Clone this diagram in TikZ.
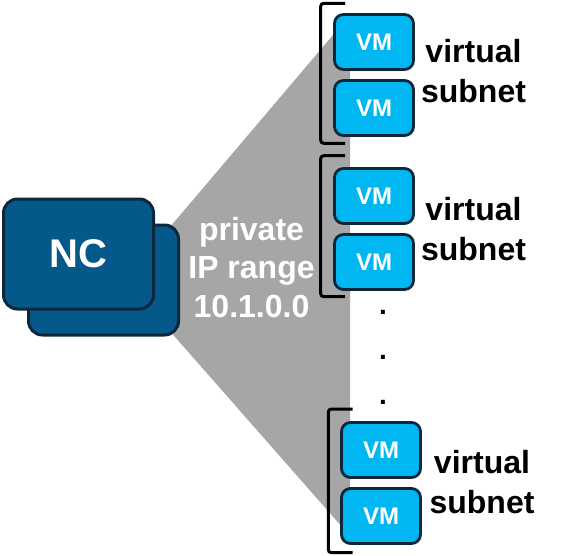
\documentclass[tikz,border=0pt]{standalone}
\usepackage{fontspec}
\setmainfont{Liberation Sans}
\definecolor{ncblue}{RGB}{5,89,138}
\definecolor{vmcyan}{RGB}{0,183,241}
\definecolor{boxline}{RGB}{12,40,58}
\definecolor{rangegray}{RGB}{166,166,166}

\begin{document}
\begin{tikzpicture}[x=1pt,y=-1pt]
	\tikzstyle{every node}=[font=\bfseries]
	\tikzstyle{ncbox}=[draw=boxline, line width=3pt, fill=ncblue, rounded corners=14pt,
	minimum width=150pt, minimum height=110pt, text=white,
	font=\bfseries\fontsize{40}{48}\selectfont]
	\tikzstyle{vmbox}=[draw=boxline, line width=2.8pt, fill=vmcyan, rounded corners=9pt,
	minimum width=79pt, minimum height=55pt, text=white,
	font=\bfseries\fontsize{24}{28}\selectfont]
	\tikzstyle{subnetlabel}=[align=center, anchor=base, inner sep=0pt,
	font=\bfseries\fontsize{32}{40}\selectfont]
	\tikzstyle{bracket}=[line width=3pt, rounded corners=3pt]
	\useasboundingbox (0,0) rectangle (584,555);
	% address range fanning out
	\fill[rangegray] (125,280) -- (350,15) -- (350,536) -- cycle;
	% node controller
	\node[ncbox] (ncback) at (103.5,280) {};
	\node[ncbox] (nc) at (78.5,254) {NC};
	\node[align=center, anchor=base, inner sep=0pt, text=white,
	font=\bfseries\fontsize{32}{38.5}\selectfont] (range) at (251.5,317)
	{private\\IP range\\10.1.0.0};
	% subnets
	\draw[bracket] (345,3.3) -- (320.7,3.3) -- (320.7,143.3) -- (345,143.3);
	\node[vmbox] (vm1a) at (374,42) {VM};
	\node[vmbox] (vm1b) at (374,108) {VM};
	\node[subnetlabel] (subnet1) at (473.5,102) {virtual\\subnet};
	\draw[bracket] (345,155.7) -- (320.7,155.7) -- (320.7,296.7) -- (345,296.7);
	\node[vmbox] (vm2a) at (374,196) {VM};
	\node[vmbox] (vm2b) at (374,262) {VM};
	\node[subnetlabel] (subnet2) at (473.5,260) {virtual\\subnet};
	\foreach \y/\n in {312/a,357/b,402/c}
	\node[font=\bfseries\fontsize{28}{30}\selectfont, inner sep=0pt] (dot\n) at (383,\y) {.};
	\draw[bracket] (352.7,409) -- (328.3,409) -- (328.3,552.7) -- (352.7,552.7);
	\node[vmbox] (vm3a) at (381,450) {VM};
	\node[vmbox] (vm3b) at (381,516) {VM};
	\node[subnetlabel] (subnet3) at (482,513) {virtual\\subnet};
\end{tikzpicture}
\end{document}
